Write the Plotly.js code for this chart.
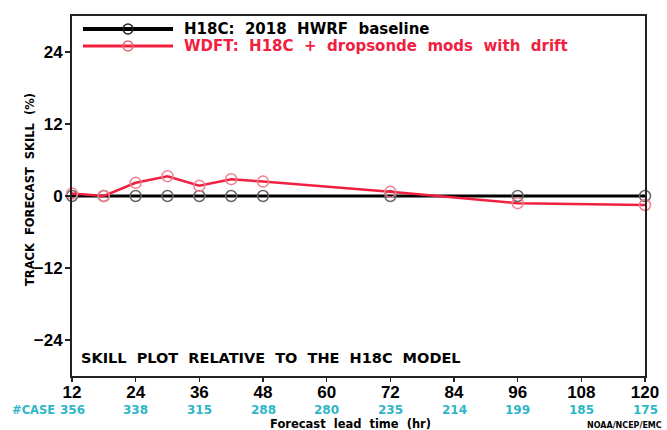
<!DOCTYPE html>
<html>
<head>
<meta charset="utf-8">
<script src="https://cdn.plot.ly/plotly-3.0.1.min.js"></script>
<style>html,body{margin:0;padding:0;background:#fff;}#chart{width:667px;height:430px;}</style>
</head>
<body>
<div id="chart"></div>
<script>
// Forecast lead times (hr) with markers
const leadTimes = [12, 18, 24, 30, 36, 42, 48, 72, 96, 120];
// H18C baseline skill (%) relative to itself
const h18cSkill = [0, 0, 0, 0, 0, 0, 0, 0, 0, 0];
// WDFT skill (%)
const wdftSkill = [0.4, 0.0, 2.2, 3.3, 1.7, 2.8, 2.4, 0.7, -1.2, -1.5];
// Tick labels and case counts
const tickHours = [12, 24, 36, 48, 60, 72, 84, 96, 108, 120];
const caseCounts = [356, 338, 315, 288, 280, 235, 214, 199, 185, 175];
const yTicks = [-24, -12, 0, 12, 24];
const seriesNames = ['H18C:  2018  HWRF  baseline', 'WDFT:  H18C  +  dropsonde  mods  with  drift'];

const HELV = 'Liberation Sans, Arial, sans-serif';
const WIDE = 'DejaVu Sans, sans-serif';
const RED = '#f2203f';
const CYAN = '#2fb6c9';

const traces = [
  {
    x: leadTimes, y: h18cSkill, mode: 'lines+markers', type: 'scatter',
    name: seriesNames[0], showlegend: false,
    line: {color: '#000', width: 3},
    marker: {symbol: 'circle-open', size: 11, color: '#666', line: {width: 1.5}},
    cliponaxis: false
  },
  {
    x: leadTimes, y: wdftSkill, mode: 'lines+markers', type: 'scatter',
    name: seriesNames[1], showlegend: false,
    line: {color: RED, width: 2.5},
    marker: {symbol: 'circle-open', size: 11, color: '#f08090', line: {width: 1.5}},
    cliponaxis: false
  }
];

// manual legend (paper coordinates)
const px = v => (v - 72) / 573;
const py = v => (376 - v) / 360;
const legendRows = [
  {y: 29, line: '#000', lw: 4, mk: '#222', text: '#000'},
  {y: 46, line: RED, lw: 3, mk: '#f06070', text: RED}
];
const shapes = [];
const annotations = [];
legendRows.forEach((r, i) => {
  shapes.push({type: 'line', xref: 'paper', yref: 'paper', x0: px(83), x1: px(173), y0: py(r.y), y1: py(r.y),
               line: {color: r.line, width: r.lw}});
  shapes.push({type: 'circle', xref: 'paper', yref: 'paper', x0: px(123), x1: px(133), y0: py(r.y + 5), y1: py(r.y - 5),
               line: {color: r.mk, width: 1.5}, fillcolor: 'rgba(0,0,0,0)'});
  annotations.push({text: '<b>' + seriesNames[i] + '</b>', xref: 'paper', yref: 'paper', x: px(182), y: py(r.y),
    xanchor: 'left', yanchor: 'middle', showarrow: false, font: {family: WIDE, size: 15, color: r.text}});
});

annotations.push(
  {
    text: '<b>TRACK  FORECAST  SKILL  (%)</b>', textangle: -90,
    xref: 'paper', yref: 'paper', x: px(30), y: py(190),
    xanchor: 'center', yanchor: 'middle', showarrow: false,
    font: {family: WIDE, size: 11.5, color: '#000'}
  },
  {
    text: '<b>SKILL  PLOT  RELATIVE  TO  THE  H18C  MODEL</b>',
    xref: 'paper', yref: 'paper', x: px(79), y: py(358),
    xanchor: 'left', yanchor: 'middle', showarrow: false,
    font: {family: WIDE, size: 14.5, color: '#000'}
  },
  {
    text: '<b>#CASE</b>',
    xref: 'paper', yref: 'paper', x: px(57), y: py(410),
    xanchor: 'right', yanchor: 'middle', showarrow: false,
    font: {family: WIDE, size: 11.5, color: CYAN}
  },
  {
    text: '<b>Forecast  lead  time  (hr)</b>',
    xref: 'paper', yref: 'paper', x: px(350), y: py(424),
    xanchor: 'center', yanchor: 'middle', showarrow: false,
    font: {family: WIDE, size: 11.5, color: '#000'}
  },
  {
    text: '<b>NOAA/NCEP/EMC</b>',
    xref: 'paper', yref: 'paper', x: px(585), y: py(425),
    xanchor: 'left', yanchor: 'middle', showarrow: false,
    font: {family: WIDE, size: 8, color: '#000'}
  }
);
tickHours.forEach((h, i) => {
  annotations.push({
    text: '<b>' + caseCounts[i] + '</b>',
    xref: 'x', yref: 'paper', x: h, y: py(410),
    xanchor: 'center', yanchor: 'middle', showarrow: false,
    font: {family: WIDE, size: 12, color: CYAN}
  });
});

const layout = {
  width: 667, height: 430,
  margin: {l: 72, r: 22, t: 16, b: 54},
  paper_bgcolor: '#fff', plot_bgcolor: '#fff',
  font: {family: HELV, color: '#000'},
  showlegend: false,
  xaxis: {
    range: [12, 120], tickvals: tickHours, ticktext: tickHours.map(v => '<b>' + v + '</b>'),
    showgrid: false, zeroline: false,
    showline: true, linecolor: '#222', linewidth: 2, mirror: true,
    ticks: 'outside', ticklen: 4, tickwidth: 1.5, tickcolor: '#222',
    ticklabelstandoff: -4,
    tickfont: {family: HELV, size: 17, color: '#000'}
  },
  yaxis: {
    range: [-30, 30], tickvals: yTicks, ticktext: yTicks.map(v => '<b>' + (v < 0 ? '\u2212' + Math.abs(v) : String(v)) + '</b>'),
    showgrid: false, zeroline: false,
    showline: true, linecolor: '#222', linewidth: 2, mirror: true,
    ticks: 'outside', ticklen: 5, tickwidth: 1.5, tickcolor: '#222',
    ticklabelstandoff: -1,
    tickfont: {family: HELV, size: 17, color: '#000'}
  },
  shapes: shapes,
  annotations: annotations
};

Plotly.newPlot('chart', traces, layout, {staticPlot: true, displayModeBar: false});
</script>
</body>
</html>
